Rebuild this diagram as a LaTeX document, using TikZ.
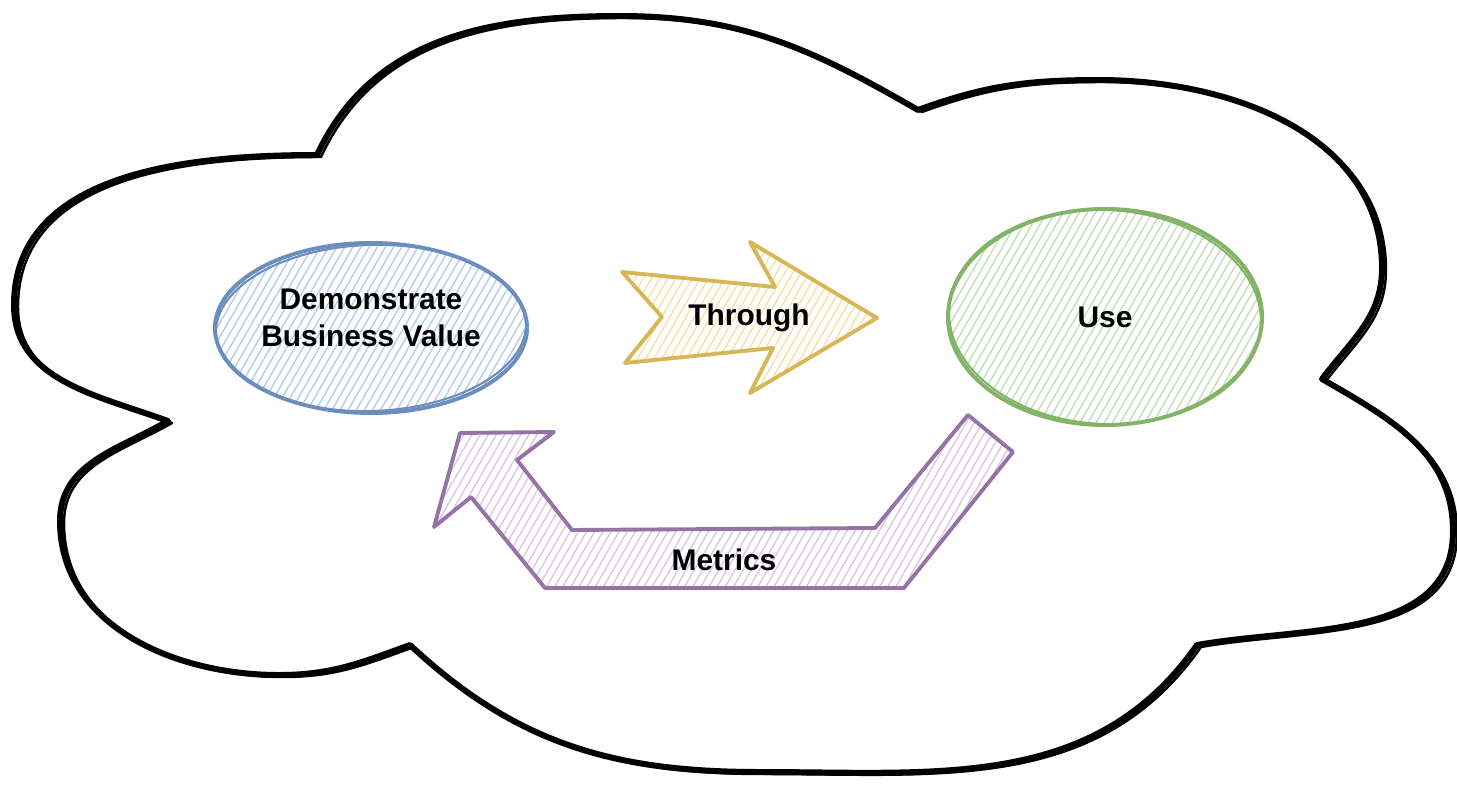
\documentclass[tikz,border=0pt]{standalone}
\usepackage{fontspec}
\setmainfont{Liberation Sans}
\usetikzlibrary{shapes.geometric,patterns.meta}

\definecolor{bluestroke}{HTML}{6C8EBF}
\definecolor{bluehatchc}{HTML}{B4CCEE}
\definecolor{greenstroke}{HTML}{82B366}
\definecolor{greenhatchc}{HTML}{C2DEBA}
\definecolor{yellowstroke}{HTML}{D6B656}
\definecolor{yellowhatchc}{HTML}{F5E2A8}
\definecolor{purplestroke}{HTML}{9673A6}
\definecolor{purplehatchc}{HTML}{D8C8E0}

\tikzset{
  labeltext/.style={font=\fontsize{8.5pt}{10.5pt}\selectfont\bfseries, align=center},
  hatch/.style={pattern={Lines[angle=60,distance=2pt,line width=0.4pt]}, pattern color=#1},
  sketchline/.style={draw=#1, line width=1.1pt, line join=round}
}

\begin{document}
\begin{tikzpicture}[x=0.01cm,y=-0.01cm]
    \useasboundingbox (0,0) rectangle (1457,788);
    % cloud, drawn twice for the sketchy look
    \foreach \s/\w in {0/1.7pt, 4/0.7pt} {
        \draw[black, line width=\w, line join=round, shift={(\s,\s*0.5)}]
            (317,155) to[out=65,in=180] (620,16) to[out=0,in=150] (918,110)
            to[out=20,in=180] (1099,80) to[out=0,in=90] (1382,268) to[out=-90,in=53] (1322,379)
            to[out=-30,in=90] (1453,531) to[out=-90,in=10] (1197,645)
            to[out=-125,in=0] (760,772) to[out=180,in=-43] (410,645)
            to[out=200,in=0] (279,675) to[out=180,in=-90] (60,521) to[out=90,in=210] (168,421)
            to[out=160,in=-90] (14,305) to[out=90,in=180] (317,155)
            -- cycle;
    }
    % the two ellipses
    \node[ellipse, sketchline=bluestroke, hatch=bluehatchc, inner sep=0pt, text depth=6pt, minimum width=3.12cm, minimum height=1.7cm, labeltext] (demo) at (371,328) {Demonstrate\\Business Value};
    \draw[bluestroke, line width=0.6pt, rotate around={2:(demo.center)}] (demo.center) ellipse [x radius=1.55cm, y radius=0.83cm];
    \node[ellipse, sketchline=greenstroke, hatch=greenhatchc, inner sep=0pt, minimum width=3.14cm, minimum height=2.16cm, labeltext] (use) at (1105,317) {Use};
    \draw[greenstroke, line width=0.6pt, rotate around={-3:(use.center)}] (use.center) ellipse [x radius=1.56cm, y radius=1.07cm];
    % yellow arrow
    \draw[sketchline=yellowstroke, hatch=yellowhatchc] (622,272) -- (775,287) -- (750,242) -- (877,318) -- (750,393) -- (773,348) -- (625,363) -- (662,317) -- cycle;
    \node[labeltext] (through) at (749,318) {Through};
    % purple arrow back
    \draw[sketchline=purplestroke, hatch=purplehatchc] (460,433) -- (554,432) -- (517,460) -- (572,530) -- (875,528) -- (968,415) -- (1013,452) -- (904,588) -- (545,588) -- (471,497) -- (434,527) -- cycle;
    \node[labeltext] (metrics) at (724,560) {Metrics};
\end{tikzpicture}
\end{document}
